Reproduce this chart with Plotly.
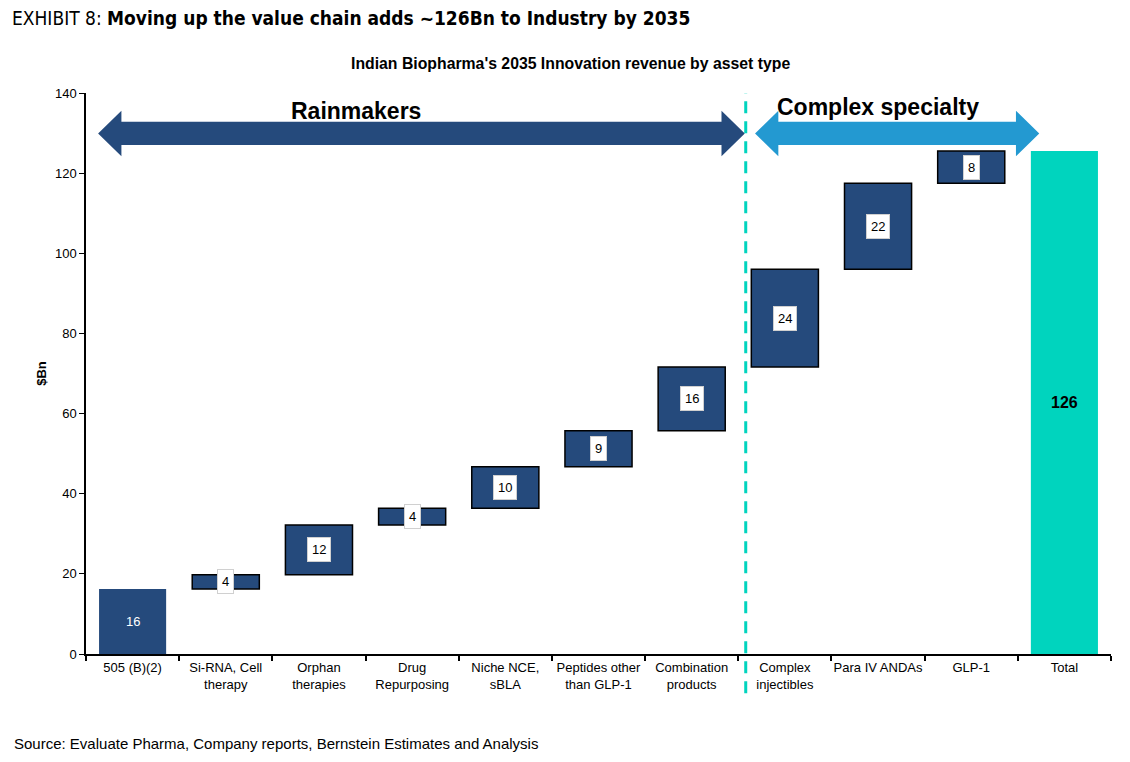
import plotly.graph_objects as go

# categories and values ($Bn)
categories = ["505 (B)(2)", "Si-RNA, Cell<br>therapy", "Orphan<br>therapies", "Drug<br>Repurposing",
              "Niche NCE,<br>sBLA", "Peptides other<br>than GLP-1", "Combination<br>products",
              "Complex<br>injectibles", "Para IV ANDAs", "GLP-1", "Total"]
increments = [16.2, 3.6, 12.4, 4.2, 10.3, 9.0, 15.9, 24.4, 21.5, 8.0]
value_labels = ["16", "4", "12", "4", "10", "9", "16", "24", "22", "8"]
total_label = "126"

DARK_BLUE = "#254A7C"
LIGHT_BLUE = "#2399D1"
TEAL = "#00D4BE"
FONT = "Liberation Sans, Arial, sans-serif"

# page has an 8px body margin, so the figure is drawn 8px in from the window corner
OFF = 8
W, H = 1130 - OFF, 762 - OFF
L, R, T, B = 86 - OFF, 19, 93 - OFF, 108
pw, ph = W - L - R, H - T - B


def px_x(x):
    return (x - OFF - L) / pw


def px_y(y):
    return (H - B - (y - OFF)) / ph


xs = list(range(len(categories)))
bases = []
running = 0
for v in increments:
    bases.append(running)
    running += v

fig = go.Figure()

# first bar (starts at zero, no outline)
fig.add_trace(go.Bar(x=[xs[0]], y=[increments[0]], base=[0], width=0.72,
                     marker=dict(color=DARK_BLUE, line=dict(width=0)),
                     hoverinfo="skip", showlegend=False))
# floating bars
fig.add_trace(go.Bar(x=xs[1:len(increments)], y=increments[1:], base=bases[1:], width=0.72,
                     marker=dict(color=DARK_BLUE, line=dict(color="black", width=1.5)),
                     hoverinfo="skip", showlegend=False))
# total bar
fig.add_trace(go.Bar(x=[xs[-1]], y=[running], base=[0], width=0.72,
                     marker=dict(color=TEAL, line=dict(width=0)),
                     hoverinfo="skip", showlegend=False))

annotations = []
for i, (b, v, lab) in enumerate(zip(bases, increments, value_labels)):
    if i == 0:
        annotations.append(dict(x=xs[i], y=b + v / 2, xref="x", yref="y", text=lab, showarrow=False,
                                font=dict(family=FONT, size=13, color="white")))
    else:
        annotations.append(dict(x=xs[i], y=b + v / 2, xref="x", yref="y", text=lab, showarrow=False,
                                font=dict(family=FONT, size=13, color="black"),
                                bgcolor="white", bordercolor="#d0d0d0", borderwidth=1, borderpad=4))
annotations.append(dict(x=xs[-1], y=running / 2, xref="x", yref="y", text="<b>%s</b>" % total_label,
                        showarrow=False, font=dict(family=FONT, size=16, color="black")))

# group labels
annotations.append(dict(x=2.4, y=135.5, xref="x", yref="y", text="<b>Rainmakers</b>", showarrow=False,
                        font=dict(family=FONT, size=23, color="black")))
annotations.append(dict(x=8.0, y=136.5, xref="x", yref="y", text="<b>Complex specialty</b>", showarrow=False,
                        font=dict(family=FONT, size=23, color="black")))

# titles / notes
annotations.append(dict(x=px_x(10), y=px_y(18), xref="paper", yref="paper", xanchor="left", yanchor="middle",
                        text="EXHIBIT 8: <b>Moving up the value chain adds ~126Bn to Industry by 2035</b>",
                        showarrow=False, font=dict(family="DejaVu Sans Condensed, sans-serif", size=19, color="black")))
annotations.append(dict(x=px_x(570), y=px_y(63), xref="paper", yref="paper", xanchor="center", yanchor="middle",
                        text="<b>Indian Biopharma's 2035 Innovation revenue by asset type</b>",
                        showarrow=False, font=dict(family=FONT, size=15.8, color="black")))
annotations.append(dict(x=px_x(12), y=px_y(743), xref="paper", yref="paper", xanchor="left", yanchor="middle",
                        text="Source: Evaluate Pharma, Company reports, Bernstein Estimates and Analysis",
                        showarrow=False, font=dict(family=FONT, size=15, color="black")))


def double_arrow(x0, x1, head, yc, shaft, half_head):
    return ("M {a},{yc} L {b},{ht} L {b},{st} L {c},{st} L {c},{ht} L {d},{yc} "
            "L {c},{hb} L {c},{sb} L {b},{sb} L {b},{hb} Z").format(
        a=x0, b=x0 + head, c=x1 - head, d=x1, yc=yc,
        ht=yc + half_head, st=yc + shaft, sb=yc - shaft, hb=yc - half_head)


shapes = [
    dict(type="path", xref="x", yref="y", path=double_arrow(-0.37, 6.57, 0.25, 129.9, 2.9, 5.7),
         fillcolor=DARK_BLUE, line=dict(width=0)),
    dict(type="path", xref="x", yref="y", path=double_arrow(6.68, 9.73, 0.25, 129.9, 2.9, 5.7),
         fillcolor=LIGHT_BLUE, line=dict(width=0)),
    dict(type="line", xref="x", yref="paper", x0=6.58, x1=6.58, y0=-0.07, y1=1.0,
         line=dict(color=TEAL, width=3, dash="12px,8px")),
]

fig.update_layout(
    width=W, height=H,
    margin=dict(l=L, r=R, t=T, b=B),
    paper_bgcolor="white", plot_bgcolor="white",
    barmode="overlay",
    font=dict(family=FONT, size=13, color="black"),
    annotations=annotations,
    shapes=shapes,
    xaxis=dict(range=[-0.5, 10.5], tickvals=xs, ticktext=categories, ticks="", showgrid=False,
               showline=True, linecolor="black", linewidth=2, zeroline=False,
               tickfont=dict(family=FONT, size=13, color="black"),
               minor=dict(tickvals=[i - 0.5 for i in range(len(categories) + 1)], ticks="outside",
                          ticklen=5, tickcolor="black", tickwidth=1.5, showgrid=False)),
    yaxis=dict(range=[0, 140], dtick=20, ticks="outside", ticklen=5, tickcolor="black",
               showgrid=False, showline=True, linecolor="black", linewidth=1.5, zeroline=False,
               tickfont=dict(family=FONT, size=13, color="black"),
               title=dict(text="<b>$Bn</b>", font=dict(family=FONT, size=13), standoff=5)),
)

fig.write_html("out.html")
